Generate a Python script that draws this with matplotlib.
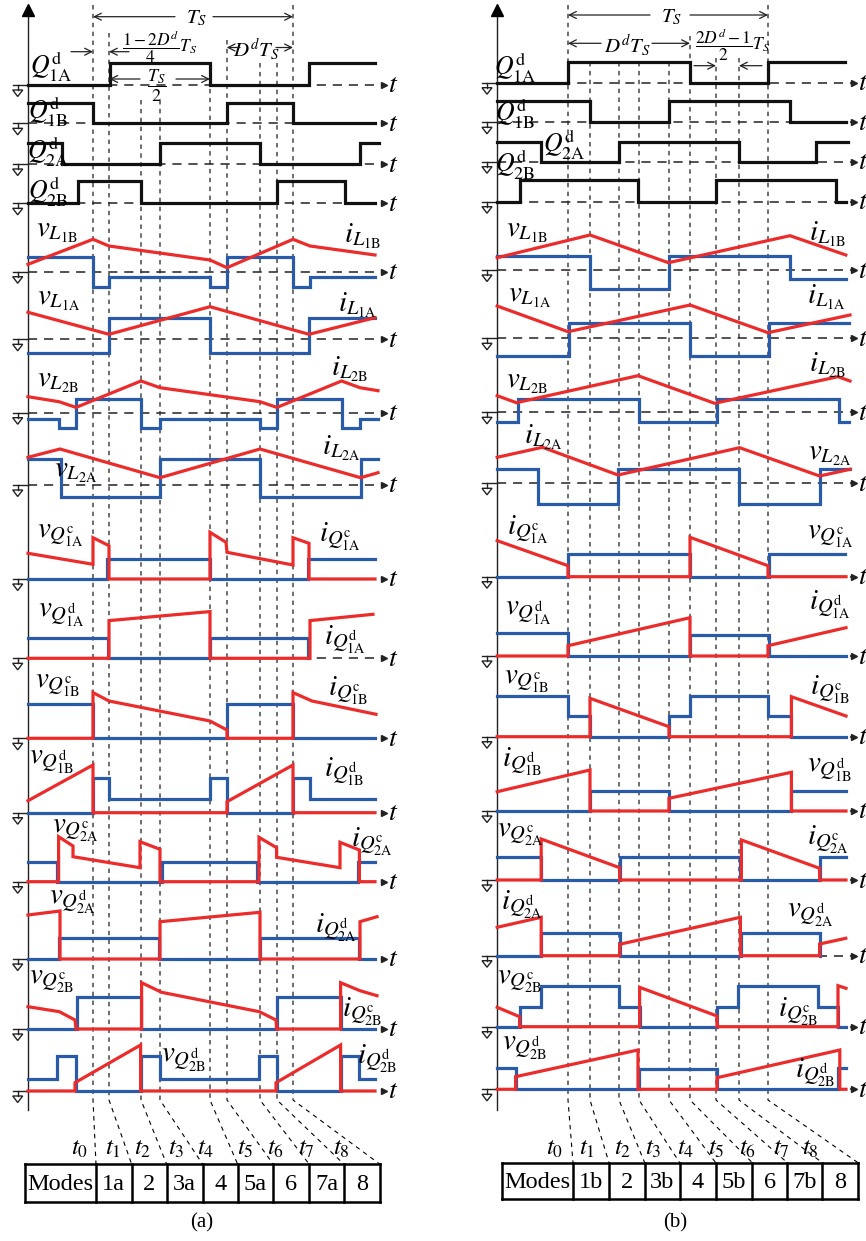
import matplotlib.pyplot as plt
from matplotlib.patches import Polygon

plt.rcParams['font.family'] = ['Liberation Serif', 'DejaVu Serif']
plt.rcParams['mathtext.fontset'] = 'stix'

RED = '#ec2b2b'
BLUE = '#2a5ba8'
INK = '#222222'
W, H = 866, 1241
TS_PX = 200  # pixels per switching period Ts

# ---------------- panel (a) data ----------------
# switching instants t0..t8 (units of Ts)
ta = [0, 0.08, 0.24, 0.335, 0.585, 0.67, 0.835, 0.92, 1.0]
modes_a = ['Modes', '1a', '2', '3a', '4', '5a', '6', '7a', '8']

# step waves: ([start, edges..., end], levels between them)
a_q1a = ([-0.325, 0.085, 0.585, 1.08, 1.41], [0, 22, 0, 22])
a_q1b = ([-0.325, 0, 0.67, 1.0, 1.41], [20, 0, 20, 0])
a_q2a = ([-0.325, -0.155, 0.335, 0.835, 1.335, 1.43], [21, 0, 21, 0, 21])
a_q2b = ([-0.325, -0.075, 0.24, 0.92, 1.26, 1.41], [0, 22, 0, 22, 0])

a_vL1B = ([-0.325, 0, 0.08, 0.585, 0.67, 1.0, 1.085, 1.41], [14.4, -15, -5.6, -15, 14.4, -15, -5.6])
a_iL1B = [(-0.325, 7.4), (0, 32.4), (0.08, 25.7), (0.585, 11.7), (0.67, 4), (1.0, 32.4), (1.085, 25.7), (1.41, 16.7)]
a_vL1A = ([-0.325, 0.08, 0.585, 1.08, 1.41], [-14, 21.6, -14, 21.6])
a_iL1A = [(-0.325, 27), (0.08, 5), (0.585, 32.6), (1.08, 5), (1.41, 21.6)]
a_vL2B = ([-0.325, -0.17, -0.085, 0.24, 0.335, 0.835, 0.92, 1.243, 1.335, 1.425], [-6.3, -15, 13.4, -15, -6.3, -15, 13.4, -15, -6.3])
a_iL2B = [(-0.325, 16), (-0.17, 11), (-0.085, 5.3), (0.24, 31.7), (0.335, 25), (0.835, 11), (0.92, 5.3), (1.243, 31.7), (1.335, 25), (1.425, 22)]
a_vL2A = ([-0.325, -0.16, 0.335, 0.835, 1.338, 1.425], [25.7, -11.7, 25.7, -11.7, 25.7])
a_iL2A = [(-0.325, 27.7), (-0.165, 36), (0.335, 7.3), (0.835, 36), (1.338, 7.3), (1.425, 12.3)]

a_iQ1Ac = ([-0.325, 0.07, 0.585, 1.075, 1.41], [0, 20, 0, 20])
a_vQ1Ac = [(-0.325, 25.7), (0, 14.7), (0, 41.3), (0.08, 33.3), (0.08, 0), (0.585, 0), (0.585, 46.7), (0.665, 36.7),
           (0.67, 26.7), (1.0, 14), (1.0, 41.3), (1.08, 35.7), (1.08, 0), (1.41, 0)]
a_iQ1Ad = ([-0.325, 0.075, 0.585, 1.075, 1.075], [20.7, 0, 20.7, 0])
a_vQ1Ad = [(-0.325, 0), (0.08, 0), (0.08, 37.7), (0.585, 46.7), (0.585, 0), (1.085, 0), (1.085, 37.7), (1.4, 44)]
a_iQ1Bc = ([-0.325, 0, 0.67, 1.0, 1.41], [34, 0, 34, 0])
a_vQ1Bc = [(-0.325, 0), (0, 0), (0, 45.7), (0.08, 37.3), (0.585, 17.3), (0.67, 8.3), (0.67, 0), (1.0, 0), (1.0, 45.7),
           (1.095, 37.3), (1.415, 24)]
a_iQ1Bd = ([-0.325, 0, 0.08, 0.585, 0.67, 1.0, 1.085, 1.41], [0, 35, 13.4, 35, 0, 35, 13.4])
a_vQ1Bd = [(-0.325, 12), (0, 47.7), (0, 0), (0.67, 0), (0.67, 11), (1.0, 47.7), (1.0, 0), (1.41, 0)]
a_iQ2Ac = ([-0.325, -0.18, 0.343, 0.82, 1.327, 1.41], [19.4, 0, 19.4, 0, 19.4])
a_vQ2Ac = [(-0.325, 0), (-0.172, 0), (-0.172, 45), (-0.1, 35.7), (-0.1, 25), (0.235, 14), (0.235, 40), (0.335, 32.4),
           (0.335, 0), (0.83, 0), (0.83, 44.4), (0.918, 34), (0.918, 24.4), (1.235, 14), (1.235, 39.4), (1.332, 31.7),
           (1.332, 0), (1.41, 0)]
a_iQ2Ad = ([-0.325, -0.17, 0.33, 0.835, 1.332, 1.41], [0, 20.7, 0, 20.7, 0])
a_vQ2Ad = [(-0.325, 44), (-0.165, 48), (-0.165, 0), (0.335, 0), (0.335, 37.3), (0.835, 46.7), (0.835, 0), (1.335, 0),
           (1.335, 37.3), (1.42, 42.3)]
a_iQ2Bc = ([-0.325, -0.082, 0.238, 0.918, 1.238, 1.41], [0, 32.3, 0, 32.3, 0])
a_vQ2Bc = [(-0.325, 22.3), (-0.168, 17.3), (-0.09, 9), (-0.085, 0), (0.243, 0), (0.243, 46.3), (0.343, 36.7),
           (0.832, 17.3), (0.915, 9), (0.918, 0), (1.238, 0), (1.238, 46.3), (1.335, 38.3), (1.42, 33.3)]
a_iQ2Bd = ([-0.325, -0.178, -0.085, 0.24, 0.335, 0.832, 0.92, 1.24, 1.33, 1.41], [11.7, 35, 0, 35, 11.7, 35, 0, 35, 11.7])
a_vQ2Bd = [(-0.325, 0), (-0.09, 0), (-0.09, 8.3), (0.238, 46), (0.238, 0), (0.915, 0), (0.915, 8.3), (1.238, 46),
           (1.238, 0), (1.41, 0)]

# ---------------- panel (b) data ----------------
tb = [0, 0.11, 0.255, 0.355, 0.505, 0.61, 0.74, 0.855, 1.0]
modes_b = ['Modes', '1b', '2', '3b', '4', '5b', '6', '7b', '8']

b_q1a = ([-0.354, 0, 0.61, 1.0, 1.383], [0, 21, 0, 21])
b_q1b = ([-0.354, 0.11, 0.505, 1.108, 1.39], [21.6, 0, 21.6, 0])
b_q2a = ([-0.354, -0.134, 0.253, 0.855, 1.238, 1.40], [20, 0, 20, 0, 20])
b_q2b = ([-0.354, -0.242, 0.35, 0.739, 1.341, 1.39], [0, 21.7, 0, 21.7, 0])

b_vL1B = ([-0.354, 0.11, 0.505, 1.108, 1.389], [14.3, -19.3, 14.3, -9.3])
b_iL1B = [(-0.354, 12.3), (0.11, 35), (0.502, 7.3), (1.11, 34.3), (1.389, 15)]
b_vL1A = ([-0.354, 0.003, 0.611, 1.005, 1.405], [-17.7, 15, -17.7, 15])
b_iL1A = [(-0.354, 32.3), (0, 6.6), (0.61, 33.3), (1.0, 5.6), (1.41, 23.3)]
b_vL2B = ([-0.354, -0.25, 0.355, 0.745, 1.355, 1.405], [-9.4, 13, -9.4, 13, -9.4])
b_iL2B = [(-0.354, 16.6), (-0.258, 9.6), (0.35, 36.6), (0.733, 9), (1.35, 35.6), (1.41, 31.3)]
b_vL2A = ([-0.354, -0.15, 0.25, 0.855, 1.261, 1.41], [14, -20.7, 14, -20.7, 14])
b_iL2A = [(-0.354, 26), (-0.128, 36), (0.25, 8.3), (0.858, 35.6), (1.258, 7.3), (1.41, 14)]

b_iQ1Ac = ([-0.354, 0, 0.61, 1.005, 1.383], [0, 22.4, 0, 22.4])
b_vQ1Ac = [(-0.354, 36), (0, 11), (0, 0), (0.61, 0), (0.61, 39.4), (1.0, 11), (1.0, 0), (1.39, 0)]
b_iQ1Ad = ([-0.354, 0, 0.61, 1.005, 1.39], [22.7, 0, 21, 0])
b_vQ1Ad = [(-0.354, 0), (0, 0), (0, 10.3), (0.61, 38.3), (0.61, 0), (1.0, 0), (1.0, 10.3), (1.39, 28.3)]
b_iQ1Bc = ([-0.354, 0, 0.11, 0.505, 0.61, 1.0, 1.117, 1.39], [40.7, 20.7, 0, 20.7, 40.7, 20.7, 0])
b_vQ1Bc = [(-0.354, 0), (0.11, 0), (0.11, 38.4), (0.505, 10), (0.505, 0), (1.117, 0), (1.117, 40), (1.39, 20.7)]
b_iQ1Bd = ([-0.354, 0.11, 0.505, 1.117, 1.39], [0, 20, 0, 20])
b_vQ1Bd = [(-0.354, 19.3), (0.11, 41), (0.11, 0), (0.505, 0), (0.505, 12.7), (1.117, 38.7), (1.117, 0), (1.39, 0)]
b_iQ2Ac = ([-0.354, -0.134, 0.258, 0.862, 1.258, 1.389], [23.3, 0, 23.3, 0, 23.3])
b_vQ2Ac = [(-0.354, 0), (-0.134, 0), (-0.134, 41), (0.258, 12.3), (0.258, 0), (0.867, 0), (0.867, 40), (1.258, 11.7),
           (1.258, 0), (1.39, 0)]
b_iQ2Ad = ([-0.354, -0.134, 0.258, 0.867, 1.258, 1.258], [0, 23, 0, 23, 0])
b_vQ2Ad = [(-0.354, 28.4), (-0.134, 38.4), (-0.134, 0), (0.258, 0), (0.258, 11.4), (0.862, 38.4), (0.862, 0),
           (1.258, 0), (1.258, 11.7), (1.389, 17.4)]
b_iQ2Bc = ([-0.354, -0.242, -0.134, 0.253, 0.358, 0.745, 0.85, 1.25, 1.35, 1.39], [0, 20, 40.7, 20, 0, 20, 40.7, 20, 0])
b_vQ2Bc = [(-0.354, 19.4), (-0.242, 10), (-0.242, 0), (0.358, 0), (0.358, 39.4), (0.745, 10.7), (0.745, 0),
           (1.35, 0), (1.35, 41), (1.39, 38.4)]
b_iQ2Bd = ([-0.354, -0.262, 0.355, 0.745, 1.35, 1.39], [21, 0, 20, 0, 21])
b_vQ2Bd = [(-0.354, 0), (-0.262, 0), (-0.262, 12.6), (0.35, 39.3), (0.35, 0), (0.745, 0), (0.745, 11.6),
           (1.359, 39.3), (1.359, 0), (1.39, 0)]

gates_a = [a_q1a, a_q1b, a_q2a, a_q2b]
gates_b = [b_q1a, b_q1b, b_q2a, b_q2b]
traces_a = [(a_vL1B, a_iL1B), (a_vL1A, a_iL1A), (a_vL2B, a_iL2B), (a_vL2A, a_iL2A),
            (a_iQ1Ac, a_vQ1Ac), (a_iQ1Ad, a_vQ1Ad), (a_iQ1Bc, a_vQ1Bc), (a_iQ1Bd, a_vQ1Bd),
            (a_iQ2Ac, a_vQ2Ac), (a_iQ2Ad, a_vQ2Ad), (a_iQ2Bc, a_vQ2Bc), (a_iQ2Bd, a_vQ2Bd)]
traces_b = [(b_vL1B, b_iL1B), (b_vL1A, b_iL1A), (b_vL2B, b_iL2B), (b_vL2A, b_iL2A),
            (b_iQ1Ac, b_vQ1Ac), (b_iQ1Ad, b_vQ1Ad), (b_iQ1Bc, b_vQ1Bc), (b_iQ1Bd, b_vQ1Bd),
            (b_iQ2Ac, b_vQ2Ac), (b_iQ2Ad, b_vQ2Ad), (b_iQ2Bc, b_vQ2Bc), (b_iQ2Bd, b_vQ2Bd)]

# ---------------- layout (pixels) ----------------
base_a = [85, 123.3, 164, 203.3, 271.7, 339.3, 412.7, 485, 579, 658.3, 738.3, 812.7, 881.7, 959, 1029, 1091]
base_b = [82.7, 122.3, 161.7, 201.7, 270, 338.3, 412.3, 483.3, 576.7, 656, 736.7, 811, 880, 955.7, 1026.7, 1089.3]
bounds_a = [96, 131.7, 166.7, 202.7, 237.7, 273.3, 309.3, 344, 380]
bounds_b = [573, 609, 644.7, 679.7, 715.7, 752.3, 787.3, 822.3, 858]
tlab_a = [80, 113, 143, 176, 206, 245, 276, 306, 341]
tlab_b = [555, 587, 623, 653, 686, 716, 748, 781, 810]
dtop_a = [5, 33, 100, 100, 80, 40, 63, 63, 5]
dtop_b = [5, 62, 62, 62, 62, 36, 58, 58, 5]


def vl(s, n):
    return r'$%s_{L_{\mathrm{%s}}}$' % (s, n)


def ql(s, n, k):
    return r'$%s_{Q_{\mathrm{%s}}^{\mathrm{%s}}}$' % (s, n, k)


def gl(n):
    return r'$Q_{\mathrm{%s}}^{\mathrm{d}}$' % n


gate_lab_a = [(gl('1A'), 51, 67), (gl('1B'), 48, 112), (gl('2A'), 48, 152), (gl('2B'), 48, 192)]
gate_lab_b = [(gl('1A'), 515, 68), (gl('1B'), 515, 114), (gl('2A'), 564, 145), (gl('2B'), 515, 165)]

labels_a = [
    (vl('v', '1B'), 57, 232), (vl('i', '1B'), 363, 236),
    (vl('v', '1A'), 59, 300), (vl('i', '1A'), 357, 305),
    (vl('v', '2B'), 58, 382), (vl('i', '2B'), 350, 369),
    (vl('i', '2A'), 341, 448), (vl('v', '2A'), 76, 472),
    (ql('v', '1A', 'c'), 60, 536), (ql('i', '1A', 'c'), 340, 537),
    (ql('v', '1A', 'd'), 61, 615), (ql('i', '1A', 'd'), 345, 640),
    (ql('v', '1B', 'c'), 58, 686), (ql('i', '1B', 'c'), 348, 691),
    (ql('v', '1B', 'd'), 52, 762), (ql('i', '1B', 'd'), 344, 772),
    (ql('v', '2A', 'c'), 75, 831), (ql('i', '2A', 'c'), 372, 842),
    (ql('v', '2A', 'd'), 72, 902), (ql('i', '2A', 'd'), 336, 928),
    (ql('v', '2B', 'c'), 52, 982), (ql('i', '2B', 'c'), 362, 1012),
    (ql('v', '2B', 'd'), 184, 1060), (ql('i', '2B', 'd'), 377, 1059),
]
labels_b = [
    (vl('v', '1B'), 527, 232), (vl('i', '1B'), 828, 234),
    (vl('v', '1A'), 530, 297), (vl('i', '1A'), 826, 297),
    (vl('v', '2B'), 527, 383), (vl('i', '2B'), 828, 365),
    (vl('i', '2A'), 543, 437), (vl('v', '2A'), 830, 455),
    (ql('i', '1A', 'c'), 528, 530), (ql('v', '1A', 'c'), 830, 537),
    (ql('v', '1A', 'd'), 528, 613), (ql('i', '1A', 'd'), 830, 605),
    (ql('v', '1B', 'c'), 527, 682), (ql('i', '1B', 'c'), 830, 690),
    (ql('i', '1B', 'd'), 522, 762), (ql('v', '1B', 'd'), 830, 770),
    (ql('v', '2A', 'c'), 520, 835), (ql('i', '2A', 'c'), 828, 840),
    (ql('i', '2A', 'd'), 522, 905), (ql('v', '2A', 'd'), 810, 915),
    (ql('v', '2B', 'c'), 520, 982), (ql('i', '2B', 'c'), 798, 1012),
    (ql('v', '2B', 'd'), 525, 1048), (ql('i', '2B', 'd'), 815, 1073),
]


def step_xy(wave, base):
    edges, levels = wave
    xs, ys = [edges[0]], [base - levels[0]]
    for e, lo, hi in zip(edges[1:-1], levels[:-1], levels[1:]):
        xs += [e, e]
        ys += [base - lo, base - hi]
    xs.append(edges[-1])
    ys.append(base - levels[-1])
    return xs, ys


def arrow(ax, x_from, x_to, y):
    ax.annotate('', xy=(x_to, y), xytext=(x_from, y),
                arrowprops=dict(arrowstyle='->,head_length=0.5,head_width=0.25', lw=0.9, color=INK,
                                shrinkA=0, shrinkB=0))


fig = plt.figure(figsize=(W / 100, H / 100), dpi=100)


def draw_panel(left, x0, yaxis, tend, marks, gates, traces, bases, gate_labs, labels,
               bounds, tab, tlab, dtop, modes, caption, cap_x):
    ax = fig.add_axes([left / W, 0, 433 / W, 1])
    ax.set_xlim((left - x0) / TS_PX, (left + 433 - x0) / TS_PX)
    ax.set_ylim(H, 0)
    ax.axis('off')

    def X(p):
        return (p - x0) / TS_PX

    xa = X(yaxis)
    # vertical axis with arrow head
    ax.plot([xa, xa], [12, 1110], color=INK, lw=1.0, zorder=2)
    ax.plot([xa], [10], marker='^', ms=9, color='k', zorder=2, clip_on=False)

    # switching instants and their leaders to the mode table
    for k, t in enumerate(marks):
        ax.plot([t, t, X(bounds[k])], [dtop[k], 1100, tab[0]], color='k', lw=0.8,
                ls=(0, (4, 4)), zorder=1)

    # time axes and ground symbols
    for b in bases:
        ax.plot([xa, X(tend)], [b, b], color=INK, lw=1.1, ls=(0, (6, 4.5)), zorder=1)
        ax.plot([X(tend)], [b], marker='>', ms=5, color=INK, zorder=2, clip_on=False)
        ax.text(X(tend + 4), b + 1, '$t$', fontsize=20, ha='left', va='center', clip_on=False)
        gx = xa - 10.3 / TS_PX
        ax.plot([xa - 15 / TS_PX, xa], [b, b], color=INK, lw=1.0)
        ax.plot([gx, gx], [b, b + 5], color=INK, lw=1.0)
        ax.add_patch(Polygon([(gx - 5 / TS_PX, b + 5), (gx + 5 / TS_PX, b + 5), (gx, b + 11.5)],
                             closed=True, fill=False, ec=INK, lw=1.0))

    # gate signals
    for wave, b in zip(gates, bases[:4]):
        xs, ys = step_xy(wave, b)
        ax.plot(xs, ys, color='#111111', lw=2.3, zorder=3, solid_joinstyle='miter')
    for s, px, py in gate_labs:
        ax.text(X(px), py, s, fontsize=18.5, ha='center', va='center', zorder=5)

    # inductor and switch waveforms
    for (blue, red), b in zip(traces, bases[4:]):
        xs, ys = step_xy(blue, b)
        ax.plot(xs, ys, color=BLUE, lw=2.3, zorder=3, solid_joinstyle='miter')
        ax.plot([p[0] for p in red], [b - p[1] for p in red], color=RED, lw=2.3, zorder=4,
                solid_joinstyle='miter')
    for s, px, py in labels:
        ax.text(X(px), py, s, fontsize=21, ha='center', va='center', zorder=5)

    # mode table
    top, bot, tl = tab
    edges = [tl] + bounds
    ax.plot([X(tl), X(bounds[-1])], [top, top], color='k', lw=1.8)
    ax.plot([X(tl), X(bounds[-1])], [bot, bot], color='k', lw=1.8)
    for e in edges:
        ax.plot([X(e), X(e)], [top, bot], color='k', lw=1.8)
    for name, l, r in zip(modes, edges[:-1], edges[1:]):
        ax.text((X(l) + X(r)) / 2, (top + bot) / 2 + 1, name, fontsize=17.5, ha='center', va='center')
    for k, px in enumerate(tlab):
        ax.text(X(px), 1149, '$t_{%d}$' % k, fontsize=18, ha='center', va='center')
    ax.text(X(cap_x), 1223, caption, fontsize=15, ha='center', va='center')
    return ax, X


ax_a, Xa = draw_panel(0, 93, 28, 384, ta, gates_a, traces_a, base_a, gate_lab_a, labels_a,
                      bounds_a, (1164.3, 1201.7, 25), tlab_a, dtop_a, modes_a, '(a)', 201.7)
ax_b, Xb = draw_panel(433, 568, 497.3, 854, tb, gates_b, traces_b, base_b, gate_lab_b, labels_b,
                      bounds_b, (1162.7, 1199.3, 502.3), tlab_b, dtop_b, modes_b, '(b)', 674.7)

# period annotations, panel (a)
ax_a.text(Xa(197), 18, '$T_S$', fontsize=15, ha='center', va='center')
arrow(ax_a, Xa(175), Xa(93), 16.7)
arrow(ax_a, Xa(213), Xa(293), 16.7)
ax_a.text(Xa(160), 47, r'$\dfrac{1-2D^{d}}{4}T_S$', fontsize=12.5, ha='center', va='center')
arrow(ax_a, Xa(71), Xa(93), 51.7)
arrow(ax_a, Xa(129), Xa(109), 51.7)
ax_a.text(Xa(157), 86, r'$\dfrac{T_S}{2}$', fontsize=13, ha='center', va='center')
arrow(ax_a, Xa(140), Xa(109.3), 79)
arrow(ax_a, Xa(176), Xa(210), 79)
ax_a.text(Xa(256), 49, '$D^{d}T_S$', fontsize=15, ha='center', va='center')
arrow(ax_a, Xa(240), Xa(226.7), 47.5)
arrow(ax_a, Xa(276), Xa(293), 47.5)

# period annotations, panel (b)
ax_b.text(Xb(672), 17, '$T_S$', fontsize=15, ha='center', va='center')
arrow(ax_b, Xb(650), Xb(568), 15)
arrow(ax_b, Xb(690), Xb(768), 15)
ax_b.text(Xb(627), 45, '$D^{d}T_S$', fontsize=15, ha='center', va='center')
arrow(ax_b, Xb(601), Xb(568), 43.3)
arrow(ax_b, Xb(652), Xb(690), 43.3)
ax_b.text(Xb(733), 45, r'$\dfrac{2D^{d}-1}{2}T_S$', fontsize=12.5, ha='center', va='center')
arrow(ax_b, Xb(694), Xb(716), 65.7)
arrow(ax_b, Xb(762), Xb(739), 65.7)

fig.savefig('out.png', dpi=100)
